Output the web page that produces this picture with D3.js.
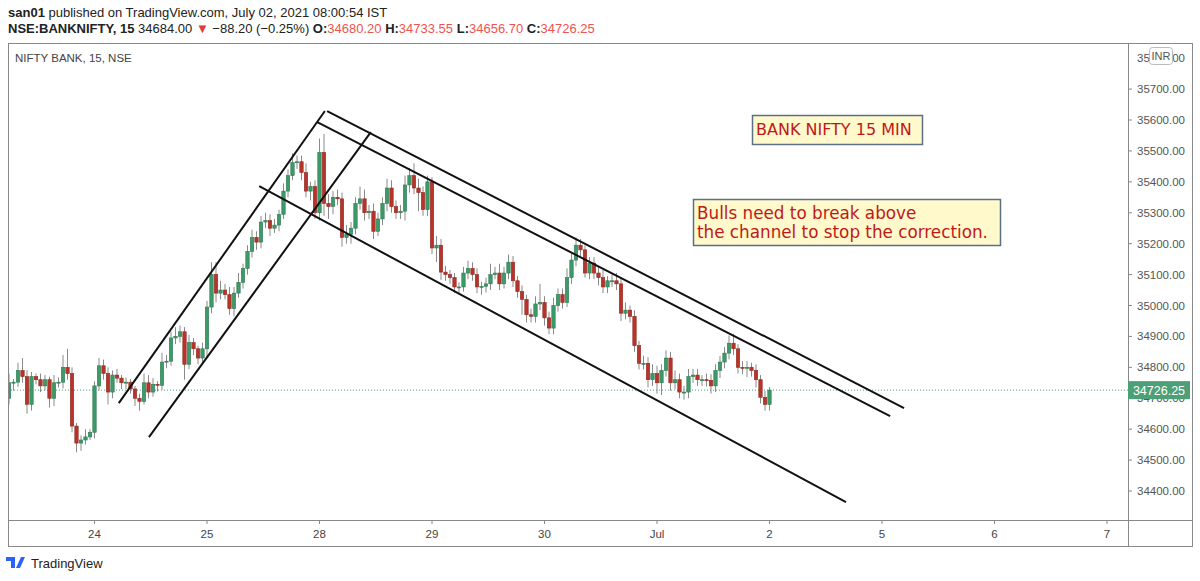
<!DOCTYPE html>
<html><head><meta charset="utf-8">
<script src="https://cdn.jsdelivr.net/npm/d3@7"></script>
<style>body{margin:0;background:#fff;font-family:"Liberation Sans",Arial,sans-serif}</style>
</head><body><svg id="c" width="1200" height="581"></svg>
<script>
// closes per 15-min bar (Jun 23 partial .. Jul 2 first bar)
const closes = [
34750,34752,34790,34770,34680,34770,34760,34740,34760,34700,34750,34752,34800,34780,34610,34555,34565,34575,34590,
34740,34805,34780,34720,34775,34765,34750,34752,34730,34700,34690,34750,34720,34745,34742,34817,34820,34895,34900,34915,34810,34880,34860,34830,34860,
34995,35100,35040,35050,35035,34990,35040,35075,35120,35175,35220,35205,35270,35275,35250,35260,35295,35370,35420,35462,35465,35430,35370,35385,35300,
35495,35330,35320,35350,35345,35220,35230,35250,35330,35345,35300,35305,35240,35280,35330,35380,35320,35300,35305,35390,35420,35380,35365,35310,35400,
35186,35195,35108,35100,35090,35060,35060,35105,35120,35100,35060,35062,35070,35100,35105,35070,35105,35140,35080,35045,
35020,34970,34965,35005,35010,34960,34927,35000,35035,35010,35090,35147,35195,35180,35105,35137,35105,35090,35060,35080,
35080,35070,34975,34985,34965,34870,34813,34813,34760,34780,34750,34790,34830,34750,34760,34720,34720,34770,34775,34760,
34760,34758,34740,34790,34817,34846,34878,34860,34800,34798,34800,34790,34760,34703,34680,34726.25];
const firstOpen = 34700;
// wick extents above / below candle body (points)
const wickUp = [
30,10,25,40,20,15,10,20,15,10,25,15,40,60,20,10,15,25,10,
15,25,20,20,15,20,10,15,10,10,15,30,25,20,10,30,20,20,30,20,15,25,15,10,20,
20,40,40,30,20,25,20,30,15,20,25,20,20,25,20,20,15,25,20,30,20,20,30,15,20,
45,60,30,20,25,20,30,20,20,40,30,20,25,20,20,30,25,20,20,30,25,40,30,20,20,
15,30,20,20,15,15,15,20,25,20,20,15,20,35,20,30,20,25,20,15,
20,15,20,25,60,20,20,25,20,20,30,20,25,20,15,20,20,20,25,15,
20,25,20,25,15,20,15,25,20,30,25,20,25,20,30,20,20,25,20,20,
15,20,20,20,20,20,25,30,15,20,20,15,20,15,20,10];
const wickDn = [
20,25,15,20,30,20,15,20,15,30,25,15,20,20,20,30,25,15,10,
20,15,20,40,20,15,20,20,15,25,30,10,20,15,20,15,20,15,20,20,50,15,20,20,15,
30,20,30,20,15,20,25,15,20,20,20,25,20,20,25,15,20,15,20,15,20,25,20,30,20,
25,40,40,25,20,30,20,30,20,20,25,20,25,15,20,25,20,20,20,30,25,20,60,20,20,
20,45,25,20,20,20,20,15,20,20,20,25,20,20,15,20,15,20,20,20,
50,25,20,20,20,25,20,20,20,20,15,20,20,20,15,20,20,25,20,20,
20,20,25,20,20,20,20,20,25,20,35,40,20,25,20,20,25,20,20,20,
20,20,25,20,25,20,20,20,20,20,30,20,25,20,20,20];
const dayLabels = ["24","25","28","29","30","Jul","2","5","6","7"];
const dayIndex = [19,44,69,94,119,144,169,194,219,244];
const yTicks = [34400,34500,34600,34700,34800,34900,35000,35100,35200,35300,35400,35500,35600,35700];
const lines = [ // [idx,price] endpoints of drawn trend lines
 [[24.4,34684],[70.2,35629]],
 [[31.1,34574],[80.4,35561]],
 [[70.7,35629],[198.9,34668]],
 [[68.4,35594],[195.8,34642]],
 [[55.6,35386],[186,34364]]];
const lastPrice = 34726.25;

const svg = d3.select("#c");
const plotL=8, plotR=1128, plotT=44, plotB=520;
const x = d3.scaleLinear().domain([0,1]).range([9,13.5]);
const y = d3.scaleLinear().domain([34400,35600]).range([491,120]);

// header
svg.append("text").attr("x",8).attr("y",17).attr("font-size",13).attr("fill","#222")
 .html('<tspan font-weight="bold">san01</tspan> published on TradingView.com, July 02, 2021 08:00:54 IST');
const h=svg.append("text").attr("x",8).attr("y",33).attr("font-size",13).attr("fill","#222");
h.append("tspan").attr("font-weight","bold").text("NSE:BANKNIFTY, 15 ");
h.append("tspan").text("34684.00 ");
h.append("tspan").attr("fill","#e53935").text("▼");
h.append("tspan").text(" −88.20 (−0.25%) ");
[["O:","34680.20"],["H:","34733.55"],["L:","34656.70"],["C:","34726.25"]].forEach(([k,v])=>{
 h.append("tspan").attr("font-weight","bold").text(k);
 h.append("tspan").attr("fill","#ef5350").text(v+" ");
});

// frame
svg.append("rect").attr("x",8.5).attr("y",43.5).attr("width",1184).attr("height",503).attr("fill","none").attr("stroke","#888");
svg.append("line").attr("x1",plotR+.5).attr("x2",plotR+.5).attr("y1",44).attr("y2",547).attr("stroke","#888");
svg.append("line").attr("x1",8).attr("x2",1193).attr("y1",plotB+.5).attr("y2",plotB+.5).attr("stroke","#888");
svg.append("text").attr("x",15).attr("y",62).attr("font-size",11.5).attr("fill","#444").text("NIFTY BANK, 15, NSE");

svg.append("clipPath").attr("id","pc").append("rect").attr("x",9).attr("y",44).attr("width",plotR-9).attr("height",plotB-44);
const g=svg.append("g").attr("clip-path","url(#pc)");

// last price dotted line
g.append("line").attr("x1",plotL).attr("x2",plotR).attr("y1",y(lastPrice)).attr("y2",y(lastPrice))
 .attr("stroke","#4c9f77").attr("stroke-dasharray","1,2").attr("stroke-width",1);

// candles
const bars = closes.map((c,i)=>{const o=i?closes[i-1]:firstOpen;return {i,o,c,hi:Math.max(o,c)+wickUp[i],lo:Math.min(o,c)-wickDn[i]};});
const cg=g.selectAll("g.bar").data(bars).join("g");
cg.append("line").attr("x1",d=>x(d.i)).attr("x2",d=>x(d.i)).attr("y1",d=>y(d.hi)).attr("y2",d=>y(d.lo)).attr("stroke","#8a8a8a");
cg.append("rect").attr("x",d=>x(d.i)-1.7).attr("width",3.4)
 .attr("y",d=>y(Math.max(d.o,d.c))).attr("height",d=>Math.max(1,Math.abs(y(d.o)-y(d.c))))
 .attr("fill",d=>d.c>=d.o?"#3e9a68":"#b8342a").attr("stroke",d=>d.c>=d.o?"#2f7a52":"#8e2a22").attr("stroke-width",0.6);

// trend lines
g.selectAll("line.tl").data(lines).join("line")
 .attr("x1",d=>x(d[0][0])).attr("y1",d=>y(d[0][1])).attr("x2",d=>x(d[1][0])).attr("y2",d=>y(d[1][1]))
 .attr("stroke","#111").attr("stroke-width",2);

// y axis
yTicks.forEach(t=>{
 svg.append("line").attr("x1",plotR).attr("x2",plotR+4).attr("y1",y(t)).attr("y2",y(t)).attr("stroke","#888");
 svg.append("text").attr("x",1137).attr("y",y(t)+4).attr("font-size",11.5).attr("fill","#555").text(t.toFixed(2));
});
svg.append("text").attr("x",1137).attr("y",y(35800)+4).attr("font-size",11.5).attr("fill","#555").text("35800.00");
svg.append("rect").attr("x",1149.5).attr("y",47.5).attr("width",23).attr("height",17).attr("rx",3).attr("fill","#fff").attr("stroke","#bbb");
svg.append("text").attr("x",1161).attr("y",60).attr("text-anchor","middle").attr("font-size",11).attr("fill","#555").text("INR");
svg.append("rect").attr("x",1128).attr("y",y(lastPrice)-9).attr("width",62).attr("height",18).attr("fill","#4c9f77");
svg.append("text").attr("x",1159).attr("y",y(lastPrice)+5).attr("text-anchor","middle").attr("font-size",12.5).attr("fill","#fff").text("34726.25");

// x axis
dayIndex.forEach((d,k)=>{
 svg.append("line").attr("x1",x(d)).attr("x2",x(d)).attr("y1",plotB).attr("y2",plotB+4).attr("stroke","#888");
 svg.append("text").attr("x",x(d)).attr("y",538).attr("text-anchor","middle").attr("font-size",11.5).attr("fill","#444").text(dayLabels[k]);
});

// annotations
function box(x0,y0,w,hh,fs,linesT){
 svg.append("rect").attr("x",x0+.5).attr("y",y0+.5).attr("width",w).attr("height",hh).attr("fill","#fff9cc").attr("stroke","#5b7086").attr("stroke-width",1.5);
 linesT.forEach((t,k)=>svg.append("text").attr("x",x0+4).attr("y",y0+20+k*19).attr("font-family","'DejaVu Sans',Verdana,sans-serif").attr("font-size",fs).attr("fill","#c01818").text(t));
}
box(752,115,170,29,16,["BANK NIFTY 15 MIN"]);
box(693,199,307,46,16.8,["Bulls need to break above","the channel to stop the correction."]);

// logo
svg.append("path").attr("d","M6 557 h9 v11 h-4 v-7 h-5z M16 568 l5 -11 h4 l-5 11z").attr("fill","#2962ff");
svg.append("text").attr("x",31).attr("y",568).attr("font-size",13).attr("fill","#222").text("TradingView");
</script></body></html>
